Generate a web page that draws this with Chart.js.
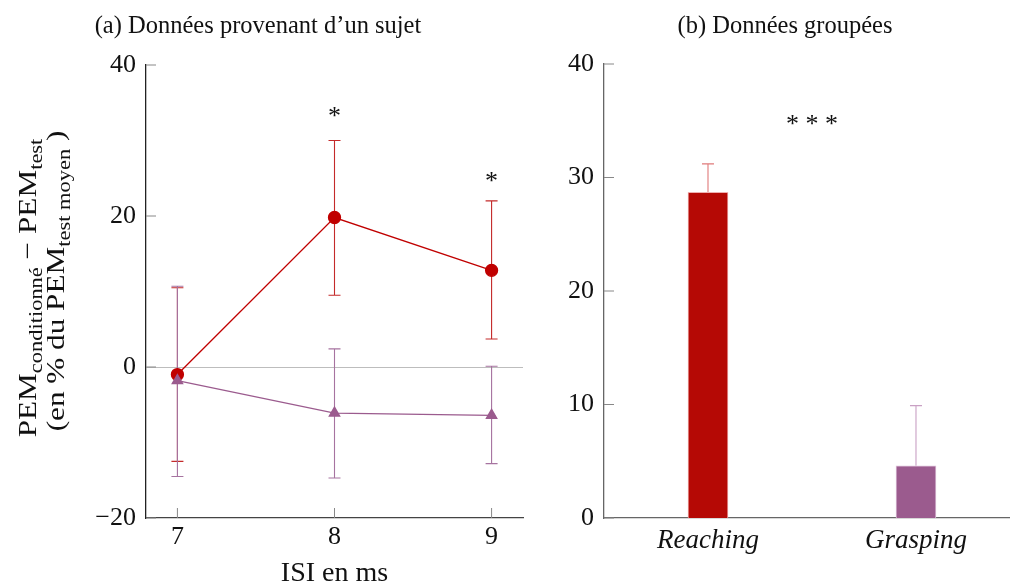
<!DOCTYPE html>
<html>
<head>
<meta charset="utf-8">
<script src="https://cdn.jsdelivr.net/npm/chart.js@4.4.0/dist/chart.umd.min.js"></script>
<style>
  html, body { margin: 0; padding: 0; background: #fff; overflow: hidden; }
  body { width: 1010px; height: 582px; position: relative; font-family: "Liberation Serif", serif; color: #111; }
  .box { position: absolute; top: 0; }
  #leftBox { left: 0; width: 540px; height: 582px; }
  #rightBox { left: 560px; width: 450px; height: 582px; }
  .title { position: absolute; top: 11px; font-size: 24.5px; white-space: nowrap; transform: translateX(-50%); }
  .ylab { position: absolute; white-space: nowrap; font-size: 26px; line-height: 1; transform: translate(-50%, -50%) rotate(-90deg) scaleX(1.2); }
  sub { font-size: 72%; vertical-align: -0.3em; line-height: 0; }
</style>
</head>
<body>
<div class="box" id="leftBox"><canvas id="leftChart" width="540" height="582"></canvas></div>
<div class="box" id="rightBox"><canvas id="rightChart" width="450" height="582"></canvas></div>

<div class="title" style="left:258px">(a) Données provenant d’un sujet</div>
<div class="title" style="left:785px">(b) Données groupées</div>
<div class="ylab" style="left:28px; top:288px">PEM<sub>conditionné</sub> − PEM<sub>test</sub></div>
<div class="ylab" style="left:56px; top:281px">(en % du PEM<sub>test moyen</sub> )</div>

<script>
// ---- data (a) : un sujet ----
const isi = [7, 8, 9];
const reachMeans = [-1.0, 19.8, 12.8];
const reachHigh = [10.5, 30.0, 22.0];
const reachLow = [-12.5, 9.5, 3.7];
const graspMeans = [-1.8, -6.1, -6.4];
const graspHigh = [10.7, 2.4, 0.1];
const graspLow = [-14.5, -14.7, -12.8];
const leftTicks = [-20, 0, 20, 40];
const starX = [8, 9];
const starY = [33.6, 25.0];

// ---- data (b) : groupées ----
const groupLabels = ['Reaching', 'Grasping'];
const groupMeans = [28.7, 4.6];
const groupHigh = [31.2, 9.9];
const rightTicks = [0, 10, 20, 30, 40];
const groupStarX = 0.5;
const groupStarY = 35.0;

const red = '#c00000';
const purple = '#9b5b8e';
const tickFont = { family: 'Liberation Serif', size: 26 };

// error bars + inward ticks + stars
const extras = {
  id: 'extras',
  beforeDatasetsDraw(chart) {
    const ctx = chart.ctx;
    const xs = chart.scales.x, ys = chart.scales.y;
    ctx.save();
    chart.data.datasets.forEach((ds) => {
      ctx.lineWidth = 1.1;
      ds.data.forEach((p, i) => {
        ctx.strokeStyle = Array.isArray(ds.errColor) ? ds.errColor[i] : ds.errColor;
        const px = xs.getPixelForValue(p.x);
        const top = ys.getPixelForValue(ds.errHigh[i]);
        const bot = ys.getPixelForValue(ds.errLow ? ds.errLow[i] : p.y);
        ctx.beginPath();
        ctx.moveTo(px, top); ctx.lineTo(px, bot);
        ctx.moveTo(px - 6, top); ctx.lineTo(px + 6, top);
        if (ds.errLow) { ctx.moveTo(px - 6, bot); ctx.lineTo(px + 6, bot); }
        ctx.stroke();
      });
    });
    ctx.restore();
  },
  afterDatasetsDraw(chart, args, opts) {
    const ctx = chart.ctx;
    const xs = chart.scales.x, ys = chart.scales.y;
    const area = chart.chartArea;
    ctx.save();
    ctx.strokeStyle = '#888';
    ctx.lineWidth = 1;
    ctx.beginPath();
    ys.ticks.forEach(t => {
      const py = ys.getPixelForValue(t.value);
      ctx.moveTo(area.left, py); ctx.lineTo(area.left + 10, py);
    });
    if (opts.xTicks) {
      xs.ticks.forEach(t => {
        const px = xs.getPixelForValue(t.value);
        ctx.moveTo(px, area.bottom); ctx.lineTo(px, area.bottom - 10);
      });
    }
    ctx.stroke();
    ctx.fillStyle = '#111';
    ctx.font = '26px "Liberation Serif"';
    ctx.textAlign = 'center';
    ctx.textBaseline = 'middle';
    opts.stars.forEach(s => {
      ctx.fillText(s.text, xs.getPixelForValue(s.x), ys.getPixelForValue(s.y) + 4);
    });
    ctx.restore();
  }
};

new Chart(document.getElementById('leftChart'), {
  type: 'line',
  data: {
    datasets: [
      {
        label: 'Reaching',
        data: isi.map((x, i) => ({ x: x, y: reachMeans[i] })),
        errHigh: reachHigh, errLow: reachLow, errColor: '#c42a2a',
        borderColor: red, backgroundColor: red, borderWidth: 1.3,
        pointStyle: 'circle', pointRadius: 6, order: 1
      },
      {
        label: 'Grasping',
        data: isi.map((x, i) => ({ x: x, y: graspMeans[i] })),
        errHigh: graspHigh, errLow: graspLow, errColor: '#a673a0',
        borderColor: purple, backgroundColor: purple, borderWidth: 1.3,
        pointStyle: 'triangle', pointRadius: 6, order: 0
      }
    ]
  },
  options: {
    responsive: false,
    animation: false,
    layout: { padding: { top: 65, right: 17, left: 0, bottom: 0 } },
    plugins: {
      legend: { display: false },
      tooltip: { enabled: false },
      extras: { xTicks: true, stars: starX.map((x, i) => ({ text: '*', x: x, y: starY[i] })) }
    },
    scales: {
      x: {
        type: 'linear', min: 6.8, max: 9.2, offset: false,
        afterBuildTicks: s => { s.ticks = isi.map(v => ({ value: v })); },
        grid: { display: false, drawTicks: false },
        border: { color: '#444', width: 1.3 },
        ticks: { font: tickFont, color: '#111', padding: 4 },
        title: { display: true, text: 'ISI en ms', font: { family: 'Liberation Serif', size: 28, lineHeight: 1 }, color: '#111', padding: { top: 0, bottom: -6 } },
        afterFit: s => { s.height = 64; }
      },
      y: {
        min: -20, max: 40,
        afterBuildTicks: s => { s.ticks = leftTicks.map(v => ({ value: v })); },
        grid: { drawTicks: false, color: c => (c.tick && c.tick.value === 0 ? '#bdbdbd' : 'rgba(0,0,0,0)') },
        border: { color: '#222', width: 1.3 },
        ticks: { font: tickFont, color: '#111', padding: 10, callback: v => (v < 0 ? '−' + Math.abs(v) : v) },
        afterFit: s => { s.width = 146; }
      }
    }
  },
  plugins: [extras]
});

new Chart(document.getElementById('rightChart'), {
  type: 'bar',
  data: {
    datasets: [{
      label: 'Groupes',
      data: groupMeans.map((v, i) => ({ x: i, y: v })),
      errHigh: groupHigh, errColor: ['#e07a7a', '#c9a0c4'],
      backgroundColor: ['#b50905', '#9b5b8e'],
      borderColor: ['#eeb0b0', '#dcc0d8'],
      borderWidth: 1,
      barThickness: 40
    }]
  },
  options: {
    responsive: false,
    animation: false,
    layout: { padding: { top: 64, right: 0, left: 0, bottom: 0 } },
    plugins: {
      legend: { display: false },
      tooltip: { enabled: false },
      extras: { xTicks: false, stars: [{ text: '* * *', x: groupStarX, y: groupStarY }] }
    },
    scales: {
      x: {
        type: 'linear', min: -0.5, max: 1.452, offset: false,
        afterBuildTicks: s => { s.ticks = groupLabels.map((_, i) => ({ value: i })); },
        grid: { display: false, drawTicks: false },
        border: { color: '#666', width: 1.3 },
        ticks: { font: { family: 'Liberation Serif', size: 27, style: 'italic' }, color: '#111', padding: 7, callback: v => groupLabels[v] },
        afterFit: s => { s.height = 64; }
      },
      y: {
        min: 0, max: 40,
        afterBuildTicks: s => { s.ticks = rightTicks.map(v => ({ value: v })); },
        grid: { display: false, drawTicks: false },
        border: { color: '#666', width: 1.3 },
        ticks: { font: tickFont, color: '#111', padding: 10 },
        afterFit: s => { s.width = 44; }
      }
    }
  },
  plugins: [extras]
});
</script>
</body>
</html>
